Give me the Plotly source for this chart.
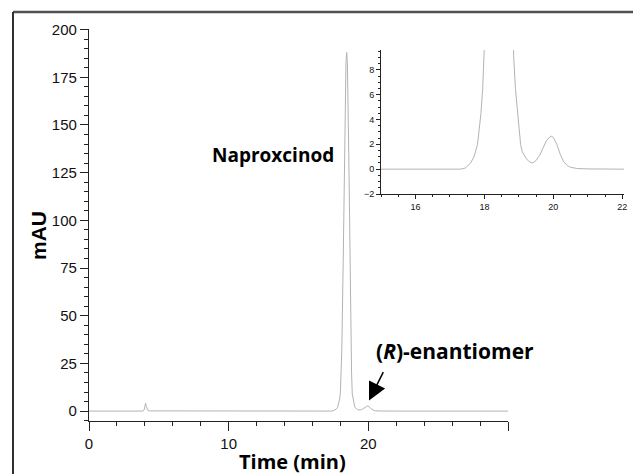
import plotly.graph_objects as go

# Chromatogram trace (time in min, absorbance in mAU)
TIME = [0.0, 3.85, 3.95, 4.0, 4.05, 4.1, 4.2, 4.35, 6.0, 9.5, 10.5, 11.5, 14.0,
        17.3, 17.45, 17.6, 17.7, 17.8, 17.9, 17.95, 18.0, 18.05, 18.1, 18.2, 18.3,
        18.4, 18.45, 18.5, 18.6, 18.7, 18.8, 18.85, 18.9, 18.95, 19.0, 19.05, 19.1,
        19.2, 19.3, 19.4, 19.5, 19.6, 19.7, 19.8, 19.9, 19.95, 20.0, 20.1, 20.2,
        20.3, 20.4, 20.5, 20.7, 21.0, 22.0, 26.0, 30.0]
SIGNAL = [0.0, 0.0, 0.6, 2.0, 4.2, 2.5, 0.5, 0.1, 0.05, 0.05, 0.25, 0.1, 0.0,
          0.0, 0.1, 0.5, 1.0, 2.0, 4.5, 6.5, 10.0, 18.0, 32.0, 78.0, 140.0,
          183.0, 188.0, 182.0, 135.0, 70.0, 20.0, 9.0, 6.5, 5.0, 3.2, 2.0, 1.4,
          0.9, 0.6, 0.5, 0.7, 1.1, 1.7, 2.3, 2.6, 2.65, 2.55, 2.0, 1.2,
          0.6, 0.3, 0.15, 0.05, 0.02, 0.0, 0.0, 0.0]

X_TICKS = [0, 10, 20, 30]
X_TICK_LABELS = ["0", "10", "20", ""]
Y_TICKS = [0, 25, 50, 75, 100, 125, 150, 175, 200]
INSET_X_TICKS = [16, 18, 20, 22]
INSET_Y_TICKS = [-2, 0, 2, 4, 6, 8]

LINE_COLOR = "#b3b3b3"
AXIS_COLOR = "#222222"
TICK_FONT = dict(family="Liberation Sans, Arial, sans-serif", size=15, color="#111")
INSET_FONT = dict(family="Liberation Sans, Arial, sans-serif", size=9, color="#111")
LABEL_FAMILY = "Open Sans, Lato, sans-serif"

fig = go.Figure()
fig.add_trace(go.Scatter(x=TIME, y=SIGNAL, mode="lines", xaxis="x", yaxis="y",
                         line=dict(color=LINE_COLOR, width=1), showlegend=False,
                         hoverinfo="skip"))
fig.add_trace(go.Scatter(x=TIME, y=SIGNAL, mode="lines", xaxis="x2", yaxis="y2",
                         line=dict(color=LINE_COLOR, width=1), showlegend=False,
                         hoverinfo="skip"))

W, H = 633, 474

def px(x):
    return x / W

def py(y):
    return 1 - y / H

axis_common = dict(showline=True, linecolor=AXIS_COLOR, linewidth=1.2, ticks="outside",
                   tickcolor=AXIS_COLOR, tickwidth=1, showgrid=False, zeroline=False,
                   automargin=False)

fig.update_layout(
    template="none",
    width=W, height=H,
    margin=dict(l=0, r=0, t=0, b=0, pad=0, autoexpand=False),
    paper_bgcolor="white", plot_bgcolor="white",
    xaxis=dict(domain=[px(89), px(508)], range=[0, 30], anchor="y",
               tickmode="array", tickvals=X_TICKS, ticktext=X_TICK_LABELS,
               ticklen=9, tickfont=TICK_FONT,
               minor=dict(dtick=2, tick0=0, ticklen=4, ticks="outside",
                          tickcolor=AXIS_COLOR, tickwidth=1, showgrid=False),
               **axis_common),
    yaxis=dict(domain=[py(421), py(29)], range=[-5.2, 200.3], anchor="x",
               tickmode="array", tickvals=Y_TICKS, ticklen=8, tickfont=TICK_FONT,
               minor=dict(dtick=5, tick0=0, ticklen=4, ticks="outside",
                          tickcolor=AXIS_COLOR, tickwidth=1, showgrid=False),
               **axis_common),
    xaxis2=dict(domain=[px(381), px(624)], range=[15.0, 22.05], anchor="y2",
                tickmode="array", tickvals=INSET_X_TICKS, ticklen=4, tickfont=INSET_FONT,
                minor=dict(dtick=0.5, tick0=0, ticklen=2, ticks="outside",
                           tickcolor=AXIS_COLOR, tickwidth=0.8, showgrid=False),
                **{**axis_common, "linewidth": 0.8}),
    yaxis2=dict(domain=[py(194), py(50)], range=[-2, 9.6], anchor="x2",
                tickmode="array", tickvals=INSET_Y_TICKS, ticklen=4, tickfont=INSET_FONT,
                minor=dict(dtick=0.5, tick0=0, ticklen=2, ticks="outside",
                           tickcolor=AXIS_COLOR, tickwidth=0.8, showgrid=False),
                **{**axis_common, "linewidth": 0.8}),
    shapes=[
        dict(type="line", xref="paper", yref="paper", x0=px(13), x1=1.0,
             y0=py(12), y1=py(12), line=dict(color="#505050", width=2.5)),
        dict(type="line", xref="paper", yref="paper", x0=px(13), x1=px(13),
             y0=py(12), y1=0.0, line=dict(color="#303030", width=2)),
    ],
    annotations=[
        dict(text="<b>mAU</b>", xref="paper", yref="paper", x=px(38), y=py(236),
             textangle=-90, showarrow=False, xanchor="center", yanchor="middle",
             font=dict(family="Liberation Sans, Arial, sans-serif", size=21, color="#000")),
        dict(text="<b>Time (min)</b>", xref="paper", yref="paper", x=px(292), y=py(461),
             showarrow=False, xanchor="center", yanchor="middle",
             font=dict(family=LABEL_FAMILY, size=20, color="#000")),
        dict(text="<b>Naproxcinod</b>", xref="paper", yref="paper", x=px(273), y=py(155),
             showarrow=False, xanchor="center", yanchor="middle",
             font=dict(family=LABEL_FAMILY, size=19, color="#000")),
        dict(text="<b>(<i>R</i>)-enantiomer</b>", xref="paper", yref="paper",
             x=px(455), y=py(351), showarrow=False, xanchor="center", yanchor="middle",
             font=dict(family=LABEL_FAMILY, size=21, color="#000")),
        dict(text="", xref="x", yref="y", x=20.05, y=5.5, ax=15, ay=-30,
             showarrow=True, arrowhead=2, arrowsize=2.4, arrowwidth=1.5,
             arrowcolor="#000"),
    ],
)

fig.write_html(
    "out.html",
    config={"displayModeBar": False},
    post_script="document.body.style.margin='0px';document.body.style.overflow='hidden';",
)
